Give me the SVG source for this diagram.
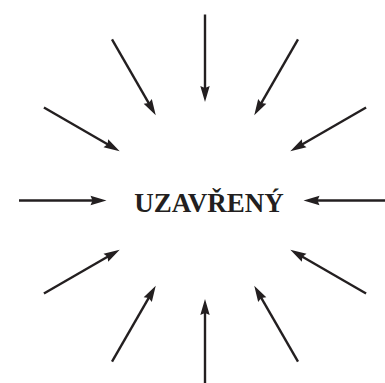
<svg xmlns="http://www.w3.org/2000/svg" width="385" height="383" viewBox="0 0 385 383">
<style>
.c line{stroke:#231f20;stroke-width:2.4;fill:none;marker-end:url(#ah)}
.t{font-family:"Liberation Serif","Times New Roman",serif;font-weight:bold;font-size:27px;fill:#231f20}
</style>
<defs>
<marker id="ah" markerUnits="userSpaceOnUse" markerWidth="20" markerHeight="12" viewBox="0 -6 18 12" refX="6" refY="0" orient="auto">
<path d="M0,-4.7 L16,0 L0,4.7 L2,0 Z" fill="#231f20"/>
</marker>
</defs>
<rect width="385" height="383" fill="#fff"/>
<g id="connectors" class="c">
<line x1="391" y1="200.5" x2="313.5" y2="200.5"/>
<line x1="366.08" y1="107.5" x2="298.96" y2="146.25"/>
<line x1="298" y1="39.42" x2="259.25" y2="106.54"/>
<line x1="205" y1="14.5" x2="205" y2="92"/>
<line x1="112" y1="39.42" x2="150.75" y2="106.54"/>
<line x1="43.92" y1="107.5" x2="111.04" y2="146.25"/>
<line x1="19" y1="200.5" x2="96.5" y2="200.5"/>
<line x1="43.92" y1="293.5" x2="111.04" y2="254.75"/>
<line x1="112" y1="361.58" x2="150.75" y2="294.46"/>
<line x1="205" y1="386.5" x2="205" y2="309"/>
<line x1="298" y1="361.58" x2="259.25" y2="294.46"/>
<line x1="366.08" y1="293.5" x2="298.96" y2="254.75"/>
</g>
<g id="node-uzavreny">
<text class="t" x="209" y="211.5" text-anchor="middle">UZAVŘENÝ</text>
</g>
</svg>
